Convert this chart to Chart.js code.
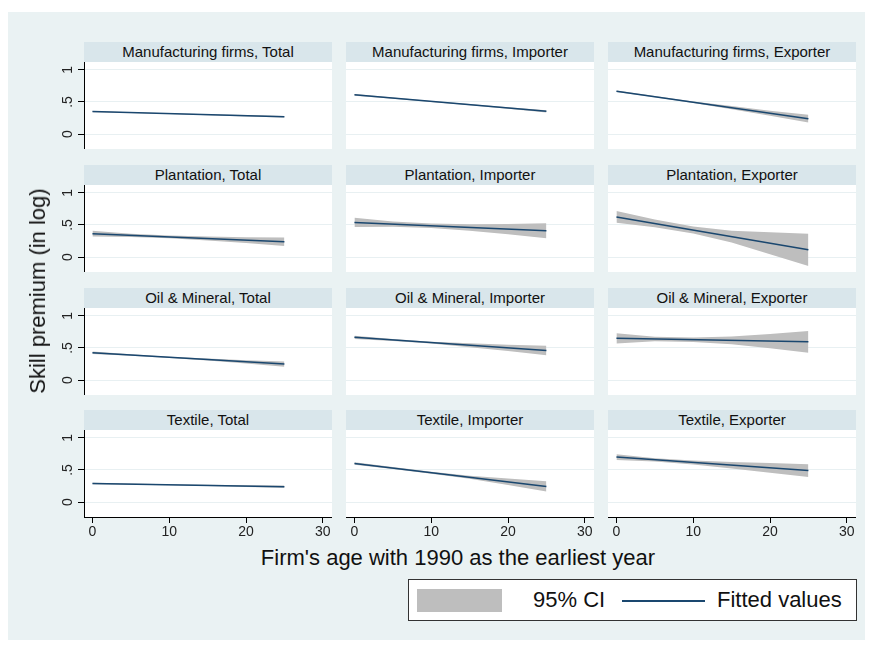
<!DOCTYPE html>
<html>
<head>
<meta charset="utf-8">
<script src="https://cdn.jsdelivr.net/npm/chart.js@4.4.0/dist/chart.umd.min.js"></script>
<style>
body { margin: 0; background: #fff; font-family: "Liberation Sans", Arial, sans-serif; }
#bg { position: absolute; left: 8px; top: 12px; width: 857px; height: 628px; background: #EAF2F3; }
.hdr { position: absolute; height: 20px; line-height: 20px; background: #D9E6EB; text-align: center; font-size: 15px; color: #111; }
canvas { position: absolute; }
.title { position: absolute; font-size: 22px; color: #111; white-space: nowrap; }
#legend { position: absolute; left: 408px; top: 579px; width: 447px; height: 40px; background: #fff; border: 1px solid #333; }
</style>
</head>
<body>
<div id="bg"></div>
<div id="panels"></div>
<div class="title" style="left:38px;top:291px;transform:translate(-50%,-50%) rotate(-90deg);">Skill premium (in log)</div>
<div class="title" style="left:458px;top:558px;transform:translate(-50%,-50%);">Firm's age with 1990 as the earliest year</div>
<div id="legend">
  <div style="position:absolute;left:8px;top:9px;width:85px;height:23px;background:#BEBEBE;"></div>
  <div class="title" style="left:124px;top:7px;">95% CI</div>
  <div style="position:absolute;left:213px;top:20px;width:83px;height:2px;background:#1A476F;"></div>
  <div class="title" style="left:308px;top:7px;">Fitted values</div>
</div>
<script>
// panel titles, row by row
const titles = [
  "Manufacturing firms, Total", "Manufacturing firms, Importer", "Manufacturing firms, Exporter",
  "Plantation, Total", "Plantation, Importer", "Plantation, Exporter",
  "Oil & Mineral, Total", "Oil & Mineral, Importer", "Oil & Mineral, Exporter",
  "Textile, Total", "Textile, Importer", "Textile, Exporter"
];

// ages where the CI band was read
const ages = [0, 5, 10, 15, 20, 25];
const fitAges = [0, 25];

// fitted values at age 0 and 25
const fits = [
  [0.35, 0.27], [0.61, 0.355], [0.667, 0.24],
  [0.365, 0.24], [0.54, 0.41], [0.625, 0.115],
  [0.425, 0.25], [0.665, 0.46], [0.65, 0.595],
  [0.29, 0.24], [0.60, 0.245], [0.70, 0.49]
];

// 95% CI upper bound
const upper = [
  [0.36, 0.341, 0.324, 0.31, 0.296, 0.283],
  [0.625, 0.569, 0.516, 0.467, 0.419, 0.373],
  [0.679, 0.592, 0.508, 0.436, 0.365, 0.30],
  [0.41, 0.365, 0.335, 0.32, 0.31, 0.305],
  [0.61, 0.554, 0.523, 0.512, 0.516, 0.525],
  [0.715, 0.583, 0.476, 0.409, 0.387, 0.365],
  [0.445, 0.402, 0.365, 0.335, 0.31, 0.29],
  [0.69, 0.639, 0.598, 0.572, 0.551, 0.535],
  [0.73, 0.674, 0.663, 0.677, 0.716, 0.765],
  [0.302, 0.288, 0.278, 0.27, 0.263, 0.258],
  [0.62, 0.544, 0.473, 0.412, 0.366, 0.325],
  [0.745, 0.683, 0.646, 0.624, 0.607, 0.59]
];

// 95% CI lower bound
const lower = [
  [0.34, 0.327, 0.312, 0.294, 0.276, 0.257],
  [0.595, 0.549, 0.5, 0.447, 0.393, 0.337],
  [0.655, 0.572, 0.484, 0.386, 0.285, 0.18],
  [0.32, 0.315, 0.295, 0.26, 0.22, 0.175],
  [0.47, 0.474, 0.453, 0.412, 0.356, 0.295],
  [0.535, 0.463, 0.366, 0.229, 0.047, -0.135],
  [0.405, 0.378, 0.345, 0.305, 0.26, 0.21],
  [0.64, 0.609, 0.568, 0.512, 0.451, 0.385],
  [0.57, 0.604, 0.593, 0.557, 0.496, 0.425],
  [0.278, 0.272, 0.262, 0.25, 0.237, 0.222],
  [0.58, 0.514, 0.443, 0.362, 0.266, 0.165],
  [0.655, 0.633, 0.586, 0.524, 0.457, 0.39]
];

const yTicks = [0, 0.5, 1];
const yTickLabels = ["0", ".5", "1"];
const xTicks = [0, 10, 20, 30];

const colX = [84, 346, 608];
const rowY = [42, 165, 288, 410];
const plotW = 248, plotH = 87, hdrH = 20;
const yAxisW = 44, xAxisH = 26;

// Stata style: y tick labels turned on their side
const rotY = {
  id: "rotY",
  afterDraw(chart) {
    if (!chart.$first) return;
    const s = chart.scales.y;
    const ctx = chart.ctx;
    ctx.save();
    ctx.font = '14px "Liberation Sans", Arial, sans-serif';
    ctx.fillStyle = "#222";
    ctx.textAlign = "center";
    ctx.textBaseline = "middle";
    yTicks.forEach((v, i) => {
      ctx.save();
      ctx.translate(s.right - 16, s.getPixelForValue(v));
      ctx.rotate(-Math.PI / 2);
      ctx.fillText(yTickLabels[i], 0, 0);
      ctx.restore();
    });
    ctx.restore();
  }
};

const holder = document.getElementById("panels");

for (let p = 0; p < 12; p++) {
  const row = Math.floor(p / 3), col = p % 3;
  const first = col === 0, bottom = row === 3;

  const hdr = document.createElement("div");
  hdr.className = "hdr";
  hdr.style.left = colX[col] + "px";
  hdr.style.top = rowY[row] + "px";
  hdr.style.width = plotW + "px";
  hdr.textContent = titles[p];
  holder.appendChild(hdr);

  const cv = document.createElement("canvas");
  const w = plotW + (first ? yAxisW : 0);
  const h = plotH + (bottom ? xAxisH : 0);
  cv.width = w; cv.height = h;
  cv.style.width = w + "px"; cv.style.height = h + "px";
  cv.style.left = (colX[col] - (first ? yAxisW : 0)) + "px";
  cv.style.top = (rowY[row] + hdrH) + "px";
  holder.appendChild(cv);

  // white plot area behind the chart, axis margins stay background coloured
  const pa = document.createElement("div");
  pa.style.cssText = "position:absolute;background:#fff;left:" + colX[col] + "px;top:" + (rowY[row] + hdrH) + "px;width:" + plotW + "px;height:" + plotH + "px;";
  holder.insertBefore(pa, cv);

  const chart = new Chart(cv, {
    type: "line",
    data: {
      datasets: [
        {
          data: ages.map((a, i) => ({ x: a, y: upper[p][i] })),
          borderColor: "rgba(0,0,0,0)",
          backgroundColor: "#BEBEBE",
          pointRadius: 0,
          fill: "+1",
          order: 2,
        },
        {
          data: ages.map((a, i) => ({ x: a, y: lower[p][i] })),
          borderColor: "rgba(0,0,0,0)",
          pointRadius: 0,
          fill: false,
          order: 3,
        },
        {
          data: fitAges.map((a, i) => ({ x: a, y: fits[p][i] })),
          borderColor: "#1A476F",
          borderWidth: 1.5,
          pointRadius: 0,
          fill: false,
          order: 0,
        },
      ],
    },
    options: {
      responsive: false,
      animation: false,
      layout: { padding: 0 },
      plugins: {
        legend: { display: false },
        tooltip: { enabled: false },
      },
      scales: {
        x: {
          type: "linear",
          min: -1.1,
          max: 31.2,
          display: bottom,
          afterBuildTicks: (s) => { s.ticks = xTicks.map((v) => ({ value: v })); },
          afterFit: (s) => { s.height = bottom ? xAxisH : 0; },
          ticks: {
            color: "#222",
            font: { size: 14, family: '"Liberation Sans", Arial, sans-serif' },
            padding: 1,
            maxRotation: 0,
            callback: (v) => String(v),
          },
          grid: { drawOnChartArea: false, drawTicks: true, tickLength: 6, tickColor: "#000" },
          border: { display: true, color: "#000", width: 1 },
        },
        y: {
          min: -0.23,
          max: 1.12,
          afterBuildTicks: (s) => { s.ticks = yTicks.map((v) => ({ value: v })); },
          afterFit: (s) => { s.width = first ? yAxisW : 0; },
          ticks: { display: false },
          grid: { color: "#E8F0F2", lineWidth: 1, drawTicks: first, tickLength: 6, tickColor: "#000" },
          border: { display: first, color: "#000", width: 1 },
        },
      },
    },
    plugins: [rotY],
  });
  chart.$first = first;
  chart.draw();
}
</script>
</body>
</html>
